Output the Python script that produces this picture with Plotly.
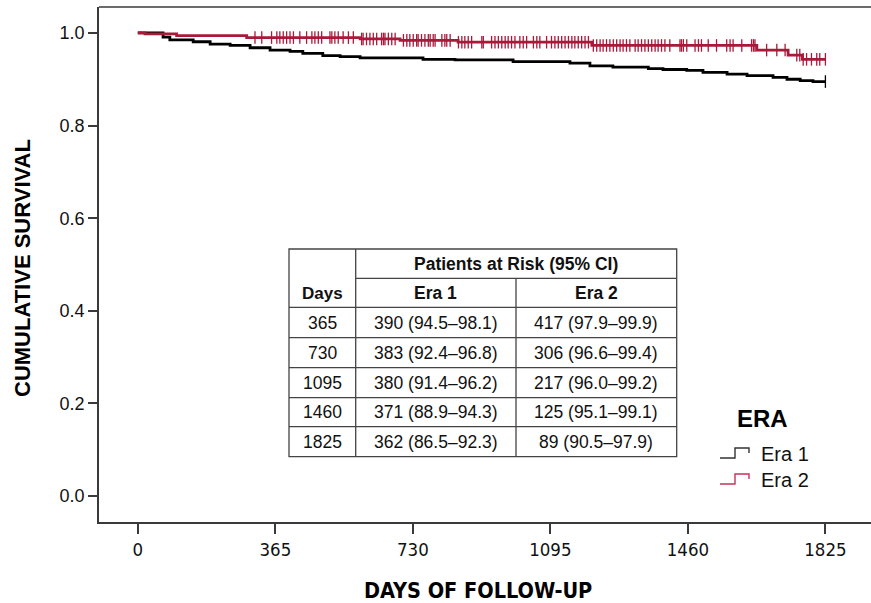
import bisect
import plotly.graph_objects as go

# ---------------- data ----------------
era1_time = [0, 67, 85, 147, 192, 245, 298, 351, 404, 438, 491, 537, 590, 757, 842,
             996, 1147, 1200, 1261, 1355, 1394, 1457, 1500, 1564, 1617, 1686, 1723,
             1758, 1792, 1825]
era1_surv = [1.000, 0.991, 0.985, 0.981, 0.976, 0.973, 0.968, 0.963, 0.960, 0.956,
             0.951, 0.949, 0.946, 0.943, 0.942, 0.938, 0.935, 0.929, 0.926, 0.923,
             0.921, 0.919, 0.915, 0.911, 0.908, 0.904, 0.900, 0.897, 0.895, 0.895]
era1_censor = [1825]

era2_time = [0, 19, 103, 289, 590, 696, 850, 1205, 1643, 1726, 1764, 1825]
era2_surv = [1.000, 0.998, 0.994, 0.990, 0.987, 0.984, 0.980, 0.973, 0.963, 0.952,
             0.943, 0.943]
era2_censor = [311, 329, 355, 369, 377, 386, 395, 404, 413, 430, 448, 462, 470, 479,
               488, 510, 515, 523, 532, 545, 559, 572, 594, 598, 607, 616, 625, 634,
               647, 652, 656, 665, 674, 683, 705, 714, 722, 731, 740, 744, 753, 762,
               771, 776, 784, 789, 807, 815, 820, 829, 851, 860, 868, 877, 886, 913,
               917, 939, 948, 957, 966, 975, 983, 992, 1001, 1014, 1023, 1032, 1050,
               1059, 1067, 1085, 1098, 1107, 1116, 1125, 1134, 1143, 1152, 1160, 1169,
               1178, 1187, 1196, 1209, 1218, 1227, 1235, 1244, 1253, 1262, 1271, 1280,
               1288, 1297, 1306, 1320, 1328, 1337, 1346, 1355, 1364, 1373, 1381, 1390,
               1399, 1412, 1439, 1443, 1448, 1457, 1479, 1488, 1496, 1514, 1536, 1563,
               1572, 1580, 1603, 1629, 1634, 1638, 1669, 1696, 1718, 1749, 1757, 1766,
               1775, 1788, 1802, 1810, 1825]

x_ticks = [0, 365, 730, 1095, 1460, 1825]
y_ticks = [0.0, 0.2, 0.4, 0.6, 0.8, 1.0]
y_tick_labels = ["0.0", "0.2", "0.4", "0.6", "0.8", "1.0"]

table_days = ["365", "730", "1095", "1460", "1825"]
era1_risk = [390, 383, 380, 371, 362]
era1_ci = ["94.5–98.1", "92.4–96.8", "91.4–96.2", "88.9–94.3", "86.5–92.3"]
era2_risk = [417, 306, 217, 125, 89]
era2_ci = ["97.9–99.9", "96.6–99.4", "96.0–99.2", "95.1–99.1", "90.5–97.9"]

series_names = ["Era 1", "Era 2"]
RED = "#A8193A"
BLACK = "#000000"
FONT = "Liberation Sans, Arial, sans-serif"
NARROW = "DejaVu Sans Condensed, Liberation Sans Narrow, Arial Narrow, Liberation Sans, sans-serif"


def surv_at(times, surv, t):
    i = bisect.bisect_right(times, t) - 1
    return surv[max(i, 0)]


fig = go.Figure()
for times, surv, cens, col in [(era1_time, era1_surv, era1_censor, BLACK),
                               (era2_time, era2_surv, era2_censor, RED)]:
    fig.add_trace(go.Scatter(x=times, y=surv, mode="lines", line=dict(color=col, width=2.8, shape="hv"),
                             showlegend=False, hoverinfo="skip"))
    fig.add_trace(go.Scatter(x=cens, y=[surv_at(times, surv, t) for t in cens], mode="markers",
                             marker=dict(symbol="line-ns", size=9, line=dict(color=col, width=1.3)),
                             showlegend=False, hoverinfo="skip"))

# ---------------- layout geometry (pixels) ----------------
W, H = 871, 603
PL, PR, PT, PB = 99, 871, 7, 522


def px(x):
    return (x - PL) / (PR - PL)


def py(y):
    return (PB - y) / (PB - PT)


shapes = []
annotations = []
LC = "#444444"


def hline(x0, x1, y, color=LC, width=1.3):
    shapes.append(dict(type="line", xref="paper", yref="paper", x0=px(x0), x1=px(x1), y0=py(y), y1=py(y),
                       line=dict(color=color, width=width)))


def vline(x, y0, y1):
    shapes.append(dict(type="line", xref="paper", yref="paper", x0=px(x), x1=px(x), y0=py(y0), y1=py(y1),
                       line=dict(color=LC, width=1.3)))


def text(x, y, s, size=16, bold=False, color="#111111", family=FONT, angle=0):
    annotations.append(dict(xref="paper", yref="paper", x=px(x), y=py(y), text=f"<b>{s}</b>" if bold else s,
                            showarrow=False, xanchor="center", yanchor="middle", textangle=angle,
                            font=dict(family=family, size=size, color=color)))


# top frame line
hline(PL, PR + 5, PT, color="#3a3a3a", width=1.5)
# keep the right edge open
shapes.append(dict(type="rect", xref="paper", yref="paper", x0=px(868.5), x1=px(873), y0=py(519), y1=py(10),
                   line=dict(width=0), fillcolor="white", layer="above"))

# table
TX0, TX1, TX2, TX3 = 289, 355.7, 516, 676.7
TY = [249, 278.3, 307.3, 337.7, 367.7, 397.7, 426.7, 456.7]
shapes.append(dict(type="rect", xref="paper", yref="paper", x0=px(TX0), x1=px(TX3), y0=py(TY[-1]), y1=py(TY[0]),
                   line=dict(color=LC, width=1.3), fillcolor="white", layer="below"))
vline(TX1, TY[0], TY[-1])
vline(TX2, TY[1], TY[-1])
hline(TX1, TX3, TY[1])
for yy in TY[2:-1]:
    hline(TX0, TX3, yy)

TS = 17.5
text((TX1 + TX3) / 2, (TY[0] + TY[1]) / 2, "Patients at Risk (95% CI)", size=17.5, bold=True)
text((TX0 + TX1) / 2, 294, "Days", size=17, bold=True)
text((TX1 + TX2) / 2, (TY[1] + TY[2]) / 2, series_names[0], size=17.5, bold=True)
text((TX2 + TX3) / 2, (TY[1] + TY[2]) / 2, series_names[1], size=17.5, bold=True)
for i in range(len(table_days)):
    yc = (TY[i + 2] + TY[i + 3]) / 2
    text((TX0 + TX1) / 2, yc, table_days[i], size=TS)
    text((TX1 + TX2) / 2, yc, f"{era1_risk[i]} ({era1_ci[i]})", size=TS)
    text((TX2 + TX3) / 2, yc, f"{era2_risk[i]} ({era2_ci[i]})", size=TS)

# legend
text(762, 418, "ERA", size=24, bold=True, color="#000000")
for k, (name, col) in enumerate([(series_names[0], "#333333"), (series_names[1], "#C2345A")]):
    dy = 26 * k
    path = (f"M{px(720)},{py(458 + dy)} L{px(735)},{py(458 + dy)} L{px(735)},{py(448 + dy)} "
            f"L{px(749)},{py(448 + dy)} L{px(749)},{py(453 + dy)}")
    shapes.append(dict(type="path", xref="paper", yref="paper", path=path, line=dict(color=col, width=1.4)))
    annotations.append(dict(xref="paper", yref="paper", x=px(759), y=py(454 + dy), text=name, showarrow=False,
                            xanchor="left", yanchor="middle", font=dict(family=FONT, size=20, color="#111111")))

# axis titles
text(478, 590, "DAYS OF FOLLOW-UP", size=21.5, bold=True, family=NARROW, color="#000000")
text(22, 268, "CUMULATIVE SURVIVAL", size=22, bold=True, color="#000000", angle=-90)

fig.update_layout(
    width=W, height=H,
    margin=dict(l=PL, r=W - PR, t=PT, b=H - PB, pad=0),
    paper_bgcolor="white", plot_bgcolor="white",
    shapes=shapes, annotations=annotations,
    xaxis=dict(range=[-103, 1946], tickvals=x_ticks, ticktext=[str(v) for v in x_ticks],
               showgrid=False, zeroline=False, showline=True, mirror=False, linecolor="#3a3a3a", linewidth=1.5,
               ticks="outside", ticklen=10, tickwidth=1.5, tickcolor="#3a3a3a",
               tickfont=dict(family=NARROW, size=18.5, color="#111111")),
    yaxis=dict(range=[-0.056, 1.056], tickvals=y_ticks, ticktext=y_tick_labels,
               showgrid=False, zeroline=False, showline=True, linecolor="#3a3a3a", linewidth=1.5,
               ticks="outside", ticklen=9, tickwidth=1.5, tickcolor="#3a3a3a",
               tickfont=dict(family=FONT, size=18, color="#111111")),
)

fig.write_html("out.html")
